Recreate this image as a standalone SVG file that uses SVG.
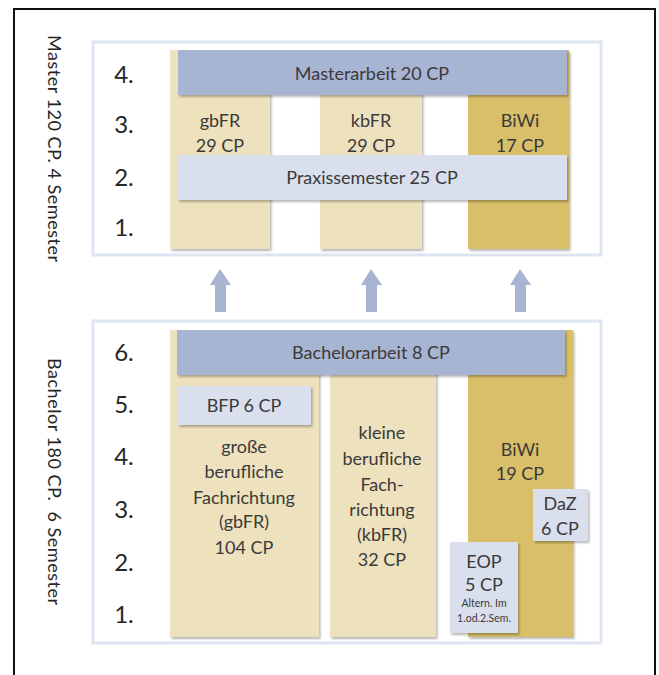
<svg xmlns="http://www.w3.org/2000/svg" width="659" height="675" viewBox="0 0 659 675">
<defs>
<filter id="sh" x="-10%" y="-10%" width="130%" height="130%">
<feDropShadow dx="1.5" dy="2" stdDeviation="1.2" flood-color="#000" flood-opacity="0.28"/>
</filter>
</defs>
<style>
text{font-family:Lato,"Liberation Sans",sans-serif;fill:#3a3a3a;text-anchor:middle}
.num{font-size:24px;fill:#262626}
.lbl{font-size:18px}
.side{font-size:18px;text-anchor:start;fill:#262626}
.small{font-size:10.5px}
.panel{fill:#fff;stroke:#dfe4f1;stroke-width:3}
.thesis{fill:#a7b4d2}
.light{fill:#d9dfec}
.wheat{fill:#eee1bd}
.gold{fill:#d9bf69}
.arrow{fill:#a7b4d2}
</style>
<rect x="0" y="0" width="659" height="675" fill="#fff"/>
<path d="M14 675 V9 H655 V675" fill="none" stroke="#111" stroke-width="2"/>

<g id="master-label"><text class="side" transform="translate(48,35) rotate(90)" textLength="227" lengthAdjust="spacing">Master 120 CP. 4 Semester</text></g>
<g id="bachelor-label"><text class="side" transform="translate(48,358) rotate(90)" textLength="247" lengthAdjust="spacing">Bachelor 180 CP.&#160; 6 Semester</text></g>

<g id="master-panel">
<rect class="panel" x="93" y="42" width="508" height="213"/>
<text class="num" x="124" y="83">4.</text>
<text class="num" x="124" y="133">3.</text>
<text class="num" x="124" y="186">2.</text>
<text class="num" x="124" y="236">1.</text>
</g>
<g id="m-gbfr"><rect class="wheat" filter="url(#sh)" x="170" y="50" width="100" height="199"/>
<text class="lbl" x="220" y="127">gbFR</text><text class="lbl" x="220" y="152">29 CP</text></g>
<g id="m-kbfr"><rect class="wheat" filter="url(#sh)" x="320" y="50" width="102" height="199"/>
<text class="lbl" x="371" y="127">kbFR</text><text class="lbl" x="371" y="152">29 CP</text></g>
<g id="m-biwi"><rect class="gold" filter="url(#sh)" x="468" y="50" width="101" height="199"/>
<text class="lbl" x="520" y="127">BiWi</text><text class="lbl" x="520" y="152">17 CP</text></g>
<g id="m-thesis"><rect class="thesis" filter="url(#sh)" x="178" y="50" width="389" height="45"/>
<text class="lbl" x="372" y="80">Masterarbeit 20 CP</text></g>
<g id="m-praxis"><rect class="light" filter="url(#sh)" x="178" y="155" width="389" height="45"/>
<text class="lbl" x="372" y="184">Praxissemester 25 CP</text></g>

<g id="connectors">
<path class="arrow" d="M220 269 L231 285 L226 285 L226 312 L215 312 L215 285 L210 285 Z"/>
<path class="arrow" d="M371 269 L382 285 L377 285 L377 312 L366 312 L366 285 L361 285 Z"/>
<path class="arrow" d="M520 269 L531 285 L526 285 L526 312 L515 312 L515 285 L510 285 Z"/>
</g>

<g id="bachelor-panel">
<rect class="panel" x="93" y="321" width="508" height="322"/>
<text class="num" x="124" y="361">6.</text>
<text class="num" x="124" y="413">5.</text>
<text class="num" x="124" y="465">4.</text>
<text class="num" x="124" y="518">3.</text>
<text class="num" x="124" y="571">2.</text>
<text class="num" x="124" y="623">1.</text>
</g>
<g id="b-gbfr"><rect class="wheat" filter="url(#sh)" x="170" y="330" width="149" height="307"/>
<text class="lbl" x="244" y="453">große</text>
<text class="lbl" x="244" y="478">berufliche</text>
<text class="lbl" x="244" y="504">Fachrichtung</text>
<text class="lbl" x="244" y="528">(gbFR)</text>
<text class="lbl" x="244" y="554">104 CP</text></g>
<g id="b-kbfr"><rect class="wheat" filter="url(#sh)" x="330" y="330" width="106" height="307"/>
<text class="lbl" x="382" y="439">kleine</text>
<text class="lbl" x="382" y="465">berufliche</text>
<text class="lbl" x="382" y="491">Fach-</text>
<text class="lbl" x="382" y="516">richtung</text>
<text class="lbl" x="382" y="541">(kbFR)</text>
<text class="lbl" x="382" y="566">32 CP</text></g>
<g id="b-biwi"><rect class="gold" filter="url(#sh)" x="468" y="330" width="105" height="307"/>
<text class="lbl" x="520" y="456">BiWi</text>
<text class="lbl" x="520" y="480">19 CP</text></g>
<g id="b-thesis"><rect class="thesis" filter="url(#sh)" x="177" y="330" width="388" height="45"/>
<text class="lbl" x="371" y="359">Bachelorarbeit 8 CP</text></g>
<g id="b-bfp"><rect class="light" filter="url(#sh)" x="178" y="386" width="133" height="39"/>
<text class="lbl" x="244" y="412">BFP 6 CP</text></g>
<g id="b-daz"><rect class="light" filter="url(#sh)" x="533" y="489" width="55" height="52"/>
<text class="lbl" x="560" y="510">DaZ</text>
<text class="lbl" x="560" y="535">6 CP</text></g>
<g id="b-eop"><rect class="light" filter="url(#sh)" x="450" y="542" width="68" height="91"/>
<text class="lbl" x="484" y="568">EOP</text>
<text class="lbl" x="484" y="591">5 CP</text>
<text class="small" x="484" y="607">Altern. Im</text>
<text class="small" x="484" y="622">1.od.2.Sem.</text></g>
</svg>
